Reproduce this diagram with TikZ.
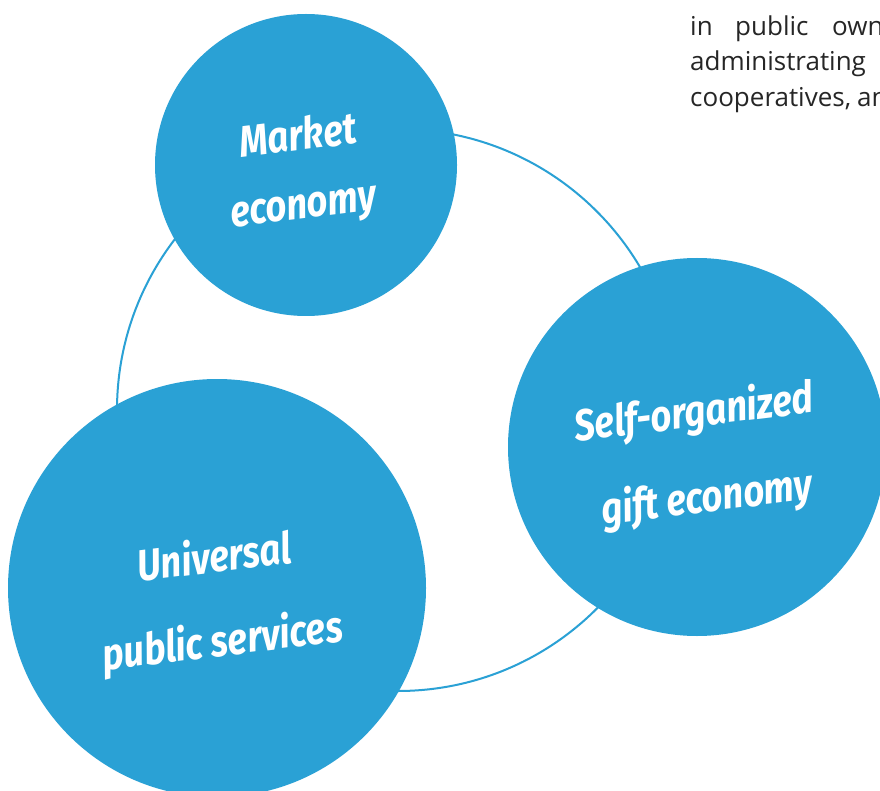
\documentclass[tikz,border=0pt]{standalone}
\usepackage{fontspec}
\setmainfont{Open Sans}
\newfontfamily\labelfont{Fira Sans}
\definecolor{bubbleblue}{RGB}{42,161,213}
\definecolor{bodygray}{RGB}{38,38,38}
\tikzset{
  bubble/.style={circle, fill=bubbleblue, draw=none, inner sep=0pt, minimum size=#1},
  ringline/.style={circle, draw=bubbleblue, line width=2pt, inner sep=0pt, minimum size=#1},
  bubbletext/.style={text=white, inner sep=0pt, rotate=7, xscale=0.91, yscale=1.1,
    font=\labelfont\bfseries\itshape\fontsize{40}{40}\selectfont},
  bodytext/.style={text=bodygray, inner sep=0pt, anchor=base west,
    font=\fontsize{26}{30}\selectfont}
}
\begin{document}
\begin{tikzpicture}[x=1pt,y=-1pt]
  \useasboundingbox (0,0) rectangle (880,791);
  \clip (0,0) rectangle (880,791);
  \fill[white] (0,0) rectangle (880,791);

  % paragraph running off the right edge
  \node[bodytext] (w1) at (690,36) {in};
  \node[bodytext] (w2) at (735,36) {public};
  \node[bodytext] (w3) at (832,36) {ownership};
  \node[bodytext] (w4) at (690,71) {administrating};
  \node[bodytext] (w5) at (690,107) {cooperatives,};
  \node[bodytext] (w6) at (857,107) {and};

  % the cycle joining the three economies
  \node[ringline=562] (cycle) at (398,410) {};

  % the three economies
  \node[bubble=302] (market) at (306,165) {};
  \node[bubble=378] (gift) at (697,447) {};
  \node[bubble=418] (public) at (217,588) {};

  \node[bubbletext] (market1) at (298,134) {Market};
  \node[bubbletext] (market2) at (304,211) {economy};
  \node[bubbletext] (gift1) at (694,414) {Self-organized};
  \node[bubbletext] (gift2) at (707,499) {gift economy};
  \node[bubbletext] (public1) at (214,555) {Universal};
  \node[bubbletext] (public2) at (223,643) {public services};
\end{tikzpicture}
\end{document}
